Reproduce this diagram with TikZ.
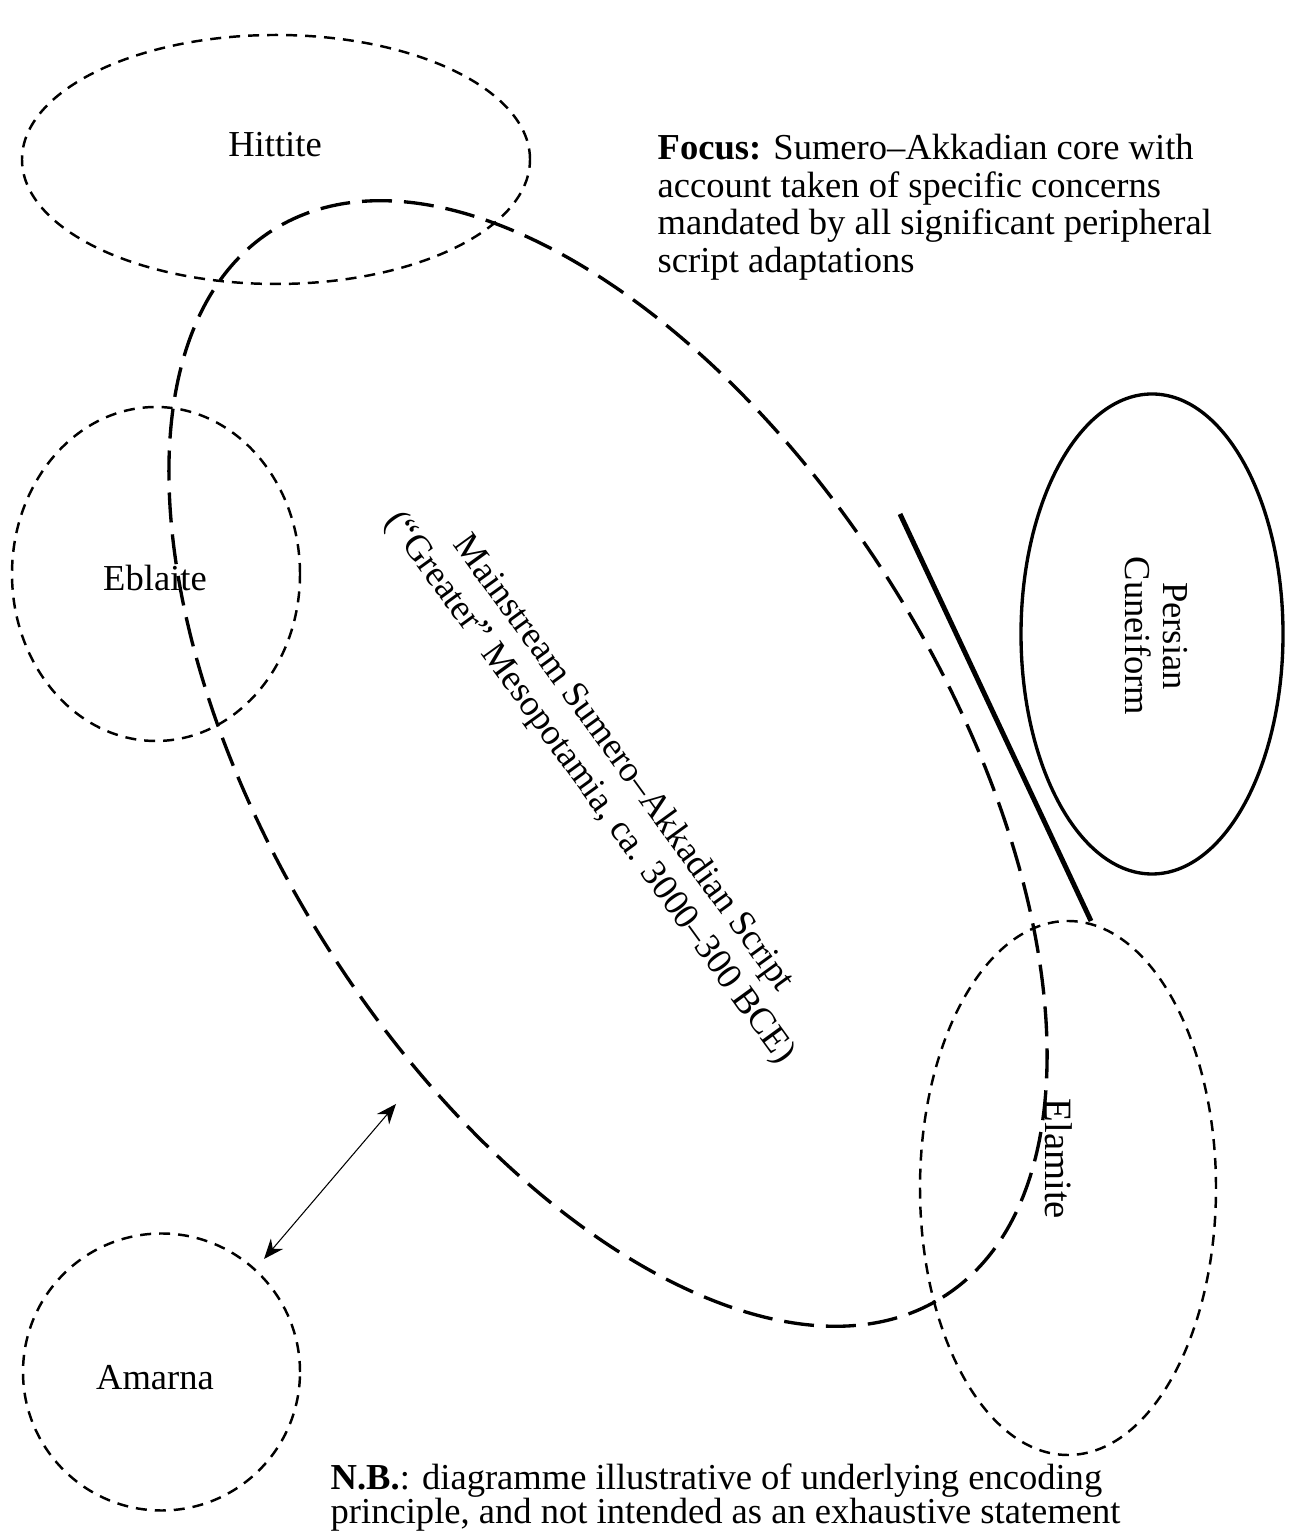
\documentclass[tikz,border=0pt]{standalone}
\usepackage{fontspec}
\setmainfont{Liberation Serif}
\usetikzlibrary{arrows.meta}

\tikzset{
  txt/.style={font=\fontsize{10.4}{10.8}\selectfont, inner sep=0pt},
  thindash/.style={line width=0.7pt, dash pattern=on 0.11cm off 0.08cm},
  longdash/.style={line width=0.95pt, dash pattern=on 0.3cm off 0.12cm},
}

\begin{document}
\begin{tikzpicture}
\useasboundingbox (0,0) rectangle (12.89,15.33);
%\draw[help lines,step=1] (0,0) grid (13,15);

% peripheral adaptations (dashed)
\foreach \cx/\cy/\rx/\ry in {2.76/13.735/2.54/1.245, 1.56/9.59/1.44/1.67, 1.615/1.61/1.385/1.385, 10.68/3.45/1.48/2.67}{
  \draw[thindash] (\cx,\cy) ellipse (\rx cm and \ry cm);
}

% mainstream core
\draw[longdash, shift={(6.08,7.695)}, rotate=-57.9] (0,0) ellipse (6.30cm and 3.354cm);

% persian, kept apart
\draw[line width=0.95pt] (11.52,8.99) ellipse (1.31cm and 2.40cm);
\draw[line width=1.4pt] (9.00,10.19) -- (10.91,6.12);

% labels
\foreach \nm/\x/\y/\lbl in {hittite/2.75/13.88/Hittite, eblaite/1.55/9.55/Eblaite, amarna/1.55/1.55/Amarna}{
  \node[txt] (\nm) at (\x,\y) {\lbl};
}
\node[txt, rotate=-90, font=\fontsize{11}{11}\selectfont] (elamite) at (10.59,3.74) {Elamite};
\node[txt, rotate=-90, align=center] (persian) at (11.56,8.97) {Persian\\Cuneiform};
\node[txt, rotate=-54, align=center, font=\fontsize{10.4}{11.8}\selectfont] (mainstream) at (6.06,7.57)
  {Mainstream Sumero–Akkadian Script\\(“Greater” Mesopotamia, ca. 3000–300 BCE)};

% notes
\node[txt, anchor=north west, align=left] (focus) at (6.57,14.00)
  {\textbf{Focus:} Sumero–Akkadian core with\\account taken of specific concerns\\mandated by all significant peripheral\\script adaptations};
\node[txt, anchor=north west, align=left, font=\fontsize{10.4}{9.7}\selectfont] (nb) at (3.30,0.70)
  {\textbf{N.B.}: diagramme illustrative of underlying encoding\\principle, and not intended as an exhaustive statement};

% link to amarna
\coordinate (coreend) at (3.96,4.29);
\coordinate (amarnaend) at (2.64,2.74);
\draw[{Stealth[length=2mm,width=1.6mm]}-{Stealth[length=2mm,width=1.6mm]}, line width=0.3pt] (coreend) -- (amarnaend);
\end{tikzpicture}
\end{document}
